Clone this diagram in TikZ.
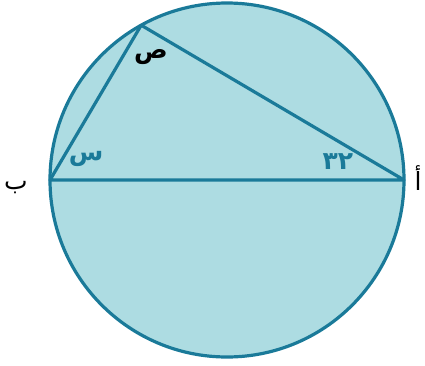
\documentclass[tikz,border=0pt]{standalone}
\usepackage{fontspec}
\newfontfamily\arabicfont[Script=Arabic]{DejaVu Sans}
\usepackage{tikz}
\usetikzlibrary{calc}

\definecolor{rimcol}{HTML}{1A7A99}
\definecolor{fillcol}{HTML}{ADDCE2}

\begin{document}
\begin{tikzpicture}[x=1pt,y=-1pt,
  vertexlabel/.style={font=\arabicfont\fontsize{25}{28}\selectfont, text=black},
  anglelabel/.style={font=\arabicfont\bfseries\fontsize{25}{28}\selectfont, text=rimcol}]

\useasboundingbox (0,0) rectangle (425,365);

% circle
\coordinate (O) at (227,180);
\draw[line width=3.2pt, draw=rimcol, fill=fillcol] (O) circle (177);

% vertices
\coordinate (A) at (404,180);
\coordinate (B) at (50,180);
\coordinate (C) at ($(O)+(-119:177)$);

% triangle and diameter
\draw[line width=3.2pt, draw=rimcol, line join=round] (A) -- (B) -- (C) -- cycle;

% vertex labels
\node[vertexlabel] (lb) at (16,188) {ب};
\node[vertexlabel] (la) at (418,178) {أ};

% angle labels
\node[anglelabel, text=black] (lc) at (151,57) {ص};
\node[anglelabel] (lx) at (86,159) {س};
\node[anglelabel] (ly) at (338,162) {٣٢};

\end{tikzpicture}
\end{document}
